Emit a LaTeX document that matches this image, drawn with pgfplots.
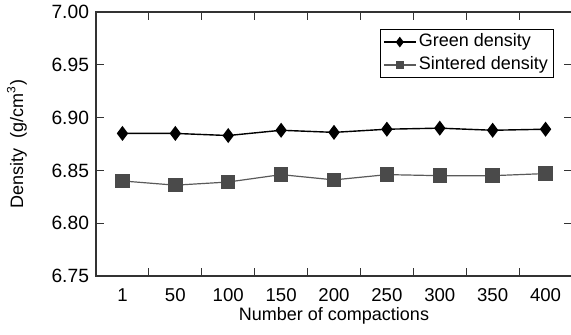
\documentclass[border=0pt]{standalone}
\usepackage{pgfplots}
\pgfplotsset{compat=1.18}
\usepackage{fontspec}
\setmainfont{Liberation Sans}
\definecolor{sq}{HTML}{4A4A4A}
\definecolor{sqline}{HTML}{5A5A5A}
\definecolor{ax}{HTML}{333333}
\pgfplotsset{
  greenleg/.style={legend image code/.code={\draw[mark repeat=2,mark phase=2,##1,mark size=2.1pt] plot coordinates {(0pt,0pt) (8pt,0pt) (16pt,0pt)};}},
  sintleg/.style={legend image code/.code={\draw[mark repeat=2,mark phase=2,##1,mark size=1.8pt] plot coordinates {(0pt,0pt) (8pt,0pt) (16pt,0pt)};}},
}
\begin{document}
\begin{tikzpicture}
\begin{axis}[
  scale only axis,
  width=238pt, height=132pt,
  xmin=-0.5, xmax=8.5,
  ymin=6.75, ymax=7.00,
  xtick={0,...,8},
  xticklabels={1,50,100,150,200,250,300,350,400},
  major x tick style={draw=none},
  minor xtick={0.5,1.5,...,7.5},
  minor tick length=4pt,
  major tick length=4pt,
  ytick={6.75,6.80,...,7.01},
  tick align=inside,
  axis line style={ax, line width=0.6pt},
  every tick/.style={ax, line width=0.6pt},
  minor tick style={ax, line width=0.6pt},
  y tick label style={/pgf/number format/.cd, fixed, fixed zerofill, precision=2, assume math mode=true, /tikz/.cd, font=\fontsize{9.6}{11}\selectfont},
  x tick label style={font=\fontsize{9.3}{11}\selectfont, anchor=base, yshift=-12.6pt},
  xlabel={Number of compactions},
  xlabel style={font=\fontsize{9}{11}\selectfont, at={(axis description cs:0.5,0)}, anchor=base, yshift=-22.4pt},
  ylabel={Density\ \ (g/cm\textsuperscript{3})},
  ylabel style={font=\fontsize{9}{11}\selectfont, at={(axis description cs:0,0.5)}, anchor=center, yshift=39.5pt},
  legend style={at={(rel axis cs:0.962,0.936)}, anchor=north east, draw=black, line width=0.5pt,
    font=\fontsize{9}{11}\selectfont, inner xsep=1.5pt, inner ysep=0.6pt,
    nodes={inner sep=1.2pt, text height=6.8pt, text depth=2.3pt}},
  legend cell align=left,
]
\addplot[black, line width=0.7pt, mark=diamond*, mark size=3.2pt, mark options={solid, fill=black}, greenleg]
coordinates {(0,6.885) (1,6.885) (2,6.883) (3,6.888) (4,6.886) (5,6.889) (6,6.890) (7,6.888) (8,6.889)};
\addlegendentry{Green density}
\addplot[sqline, line width=0.6pt, mark=square*, mark size=3.3pt, mark options={solid, fill=sq, draw=sq}, sintleg]
coordinates {(0,6.840) (1,6.836) (2,6.839) (3,6.846) (4,6.841) (5,6.846) (6,6.845) (7,6.845) (8,6.847)};
\addlegendentry{Sintered density}
\end{axis}
\pgfresetboundingbox
\path[use as bounding box] (-48pt,-29.5pt) rectangle (237.5pt,138pt);
\end{tikzpicture}
\end{document}
